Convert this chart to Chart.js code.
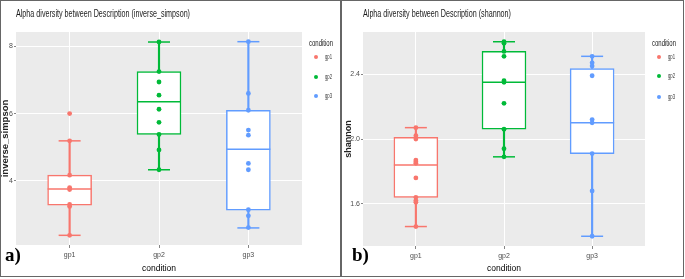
<!DOCTYPE html>
<html><head><meta charset="utf-8">
<script src="https://cdn.jsdelivr.net/npm/chart.js@4.4.0/dist/chart.umd.min.js"></script>
<style>
html,body{margin:0;padding:0;background:#fff;width:685px;height:279px;overflow:hidden;position:relative;}
.panel{position:absolute;border:1.5px solid #666;box-sizing:border-box;}
canvas{position:absolute;}
.t{position:absolute;white-space:nowrap;transform-origin:0 50%;font-family:'Liberation Sans',Arial,sans-serif;color:#1a1a1a;}
.lab{position:absolute;font-family:'Liberation Serif','Times New Roman',serif;font-weight:bold;font-size:19px;line-height:19px;color:#000;}
.dot{position:absolute;border-radius:50%;}
</style></head><body>
<div class="panel" style="left:0;top:0;width:341px;height:277px"></div>
<div class="panel" style="left:341px;top:0;width:343px;height:277px"></div>
<canvas id="c1" width="340" height="277" style="left:0;top:0;width:340px;height:277px"></canvas>
<canvas id="c2" width="341" height="277" style="left:342px;top:0;width:341px;height:277px"></canvas>
<div class="lab" style="left:5px;top:245px">a)</div>
<div class="lab" style="left:352px;top:245px">b)</div>
<script>
// ---- data ----
const categories = ['gp1', 'gp2', 'gp3'];
const groupColors = ['#F8766D', '#00BA38', '#619CFF'];

// inverse_simpson box statistics
const invLow    = [2.38, 4.33, 2.60];
const invQ1     = [3.28, 5.38, 3.13];
const invMedian = [3.76, 6.35, 4.94];
const invQ3     = [4.17, 7.25, 6.10];
const invHigh   = [5.19, 8.13, 8.14];
const invPoints = [
  [6.00, 5.19, 4.17, 3.80, 3.74, 3.30, 3.24, 2.38],
  [8.13, 7.25, 6.94, 6.55, 6.13, 5.74, 5.38, 4.92, 4.33],
  [8.14, 6.60, 6.10, 5.51, 5.36, 4.52, 4.33, 3.14, 2.96, 2.61]
];
const invTicks = [4, 6, 8];
const invTickLabels = ['4', '6', '8'];

// shannon box statistics
const shaLow    = [1.46, 1.89, 1.40];
const shaQ1     = [1.64, 2.06, 1.91];
const shaMedian = [1.84, 2.35, 2.10];
const shaQ3     = [2.01, 2.54, 2.435];
const shaHigh   = [2.07, 2.60, 2.51];
const shaPoints = [
  [2.07, 2.02, 2.00, 1.87, 1.86, 1.85, 1.76, 1.64, 1.62, 1.61, 1.46],
  [2.60, 2.59, 2.54, 2.51, 2.36, 2.35, 2.22, 2.06, 1.94, 1.89],
  [2.51, 2.47, 2.45, 2.39, 2.12, 2.10, 1.91, 1.68, 1.40]
];
const shaTicks = [1.6, 2.0, 2.4];
const shaTickLabels = ['1.6', '2.0', '2.4'];

const NARROW = "'Liberation Sans Narrow','Liberation Sans',Arial,sans-serif";

const bgPlugin = {
  id: 'panelBg',
  beforeDraw(chart) {
    const {ctx, chartArea: a} = chart;
    ctx.save();
    ctx.fillStyle = '#EBEBEB';
    ctx.fillRect(a.left, a.top, a.right - a.left, a.bottom - a.top);
    ctx.restore();
  }
};

function buildChart(id, s) {
  const xs = categories.map((c, i) => i + 1);
  const all = s.points.flat().concat(s.low, s.high);
  const dmin = Math.min(...all), dmax = Math.max(...all);
  const pad = (dmax - dmin) * 0.05;
  const datasets = [
    {type: 'line', label: 'points', order: 0, showLine: false,
     data: s.points.flatMap((arr, i) => arr.map(v => ({x: i + 1, y: v}))),
     pointRadius: 2.4, pointBorderWidth: 0,
     pointBackgroundColor: s.points.flatMap((arr, i) => arr.map(() => groupColors[i]))},
    {type: 'line', label: 'median', order: 1, showLine: false,
     data: xs.map((x, i) => ({x, y: s.med[i]})),
     pointStyle: 'line', pointRadius: 22, pointBorderWidth: 1.5, pointBorderColor: groupColors},
    {type: 'line', label: 'caps', order: 2, showLine: false,
     data: xs.map((x, i) => ({x, y: s.low[i]})).concat(xs.map((x, i) => ({x, y: s.high[i]}))),
     pointStyle: 'line', pointRadius: 11, pointBorderWidth: 1.5, pointBorderColor: groupColors.concat(groupColors)},
    {type: 'bar', label: 'box', order: 3, grouped: false,
     data: xs.map((x, i) => ({x, y: [s.q1[i], s.q3[i]]})),
     backgroundColor: '#ffffff', borderColor: groupColors, borderWidth: 1.5, borderSkipped: false,
     barThickness: 44, maxBarThickness: 44},
    {type: 'bar', label: 'whiskerLow', order: 4, grouped: false,
     data: xs.map((x, i) => ({x, y: [s.low[i], s.q1[i]]})),
     backgroundColor: groupColors, borderWidth: 0, barThickness: 1.5, maxBarThickness: 1.5},
    {type: 'bar', label: 'whiskerHigh', order: 5, grouped: false,
     data: xs.map((x, i) => ({x, y: [s.q3[i], s.high[i]]})),
     backgroundColor: groupColors, borderWidth: 0, barThickness: 1.5, maxBarThickness: 1.5}
  ];
  return new Chart(document.getElementById(id), {
    type: 'bar',
    data: {datasets},
    plugins: [bgPlugin],
    options: {
      responsive: false, animation: false, devicePixelRatio: 1, events: [],
      layout: {autoPadding: false, padding: {left: 0, top: 32, right: s.padRight, bottom: 0}},
      plugins: {legend: {display: false}, tooltip: {enabled: false}, title: {display: false}},
      scales: {
        x: {
          type: 'linear', min: 0.4, max: 3.6, offset: false,
          afterBuildTicks: sc => { sc.ticks = xs.map(v => ({value: v})); },
          afterFit: sc => { sc.height = s.xAxisH; sc.paddingLeft = 0; sc.paddingRight = 0; },
          ticks: {callback: v => categories[v - 1], font: {size: 7, family: NARROW}, color: '#4D4D4D',
                  padding: 3, autoSkip: false, maxRotation: 0},
          grid: {offset: false, color: '#FFFFFF', lineWidth: 1, tickLength: 3, tickColor: '#666', tickWidth: 0.8},
          border: {display: false},
          title: {display: true, text: 'condition', font: {size: 8.5, family: NARROW}, color: '#000',
                  padding: {top: 0, bottom: 3}}
        },
        y: {
          type: 'linear', min: dmin - pad, max: dmax + pad, beginAtZero: false,
          afterBuildTicks: sc => { sc.ticks = s.ticks.map(v => ({value: v})); },
          afterFit: sc => { sc.width = s.yAxisW; sc.paddingTop = 0; sc.paddingBottom = 0; },
          ticks: {callback: v => s.tickLabels[s.ticks.indexOf(v)], font: {size: 7, family: NARROW},
                  color: '#4D4D4D', padding: 1, autoSkip: false},
          grid: {color: '#FFFFFF', lineWidth: 1, tickLength: 2, tickColor: '#666', tickWidth: 0.8},
          border: {display: false},
          title: {display: true, text: s.yTitle, font: {size: s.yTitleSize, weight: 'bold', family: "'Liberation Sans',Arial,sans-serif"},
                  color: '#222', padding: {top: s.yTitlePad, bottom: 0}}
        }
      }
    }
  });
}

buildChart('c1', {low: invLow, q1: invQ1, med: invMedian, q3: invQ3, high: invHigh, points: invPoints,
  ticks: invTicks, tickLabels: invTickLabels, yTitle: 'inverse_simpson', yTitleSize: 9.5,
  yAxisW: 16, xAxisH: 32, padRight: 38, yTitlePad: 0});
buildChart('c2', {low: shaLow, q1: shaQ1, med: shaMedian, q3: shaQ3, high: shaHigh, points: shaPoints,
  ticks: shaTicks, tickLabels: shaTickLabels, yTitle: 'shannon', yTitleSize: 9,
  yAxisW: 21, xAxisH: 31, padRight: 38, yTitlePad: 0.8});

// ---- html text (titles, legends) ----
function addText(txt, x, baseline, size, targetW, color) {
  const el = document.createElement('div');
  el.className = 't';
  el.textContent = txt;
  el.style.fontSize = size + 'px';
  el.style.lineHeight = size + 'px';
  el.style.left = x + 'px';
  el.style.top = (baseline - size / 2 - 0.3465 * size) + 'px';
  if (color) el.style.color = color;
  document.body.appendChild(el);
  if (targetW) {
    const w = el.getBoundingClientRect().width;
    el.style.transform = 'scaleX(' + (targetW / w) + ')';
  }
}
function addDot(cx, cy, color) {
  const d = document.createElement('div');
  d.className = 'dot';
  d.style.left = (cx - 2.2) + 'px'; d.style.top = (cy - 2.2) + 'px';
  d.style.width = '4.4px'; d.style.height = '4.4px';
  d.style.background = color;
  document.body.appendChild(d);
}
addText('Alpha diversity between Description (inverse_simpson)', 16, 17, 11.2, 174);
addText('Alpha diversity between Description (shannon)', 363, 17, 11.2, 148);

const legendTitle = 'condition';
function legend(x0, dotX, labelX, ys) {
  addText(legendTitle, x0, 46.5, 9, 24);
  categories.forEach((c, i) => {
    addDot(dotX, ys[i], groupColors[i]);
    addText(c, labelX, ys[i] + 1.8, 7, 7, '#333');
  });
}
legend(309, 316, 324.5, [57, 76.7, 96]);
legend(652, 659.3, 668, [57.3, 76.3, 97]);
</script>
</body></html>
